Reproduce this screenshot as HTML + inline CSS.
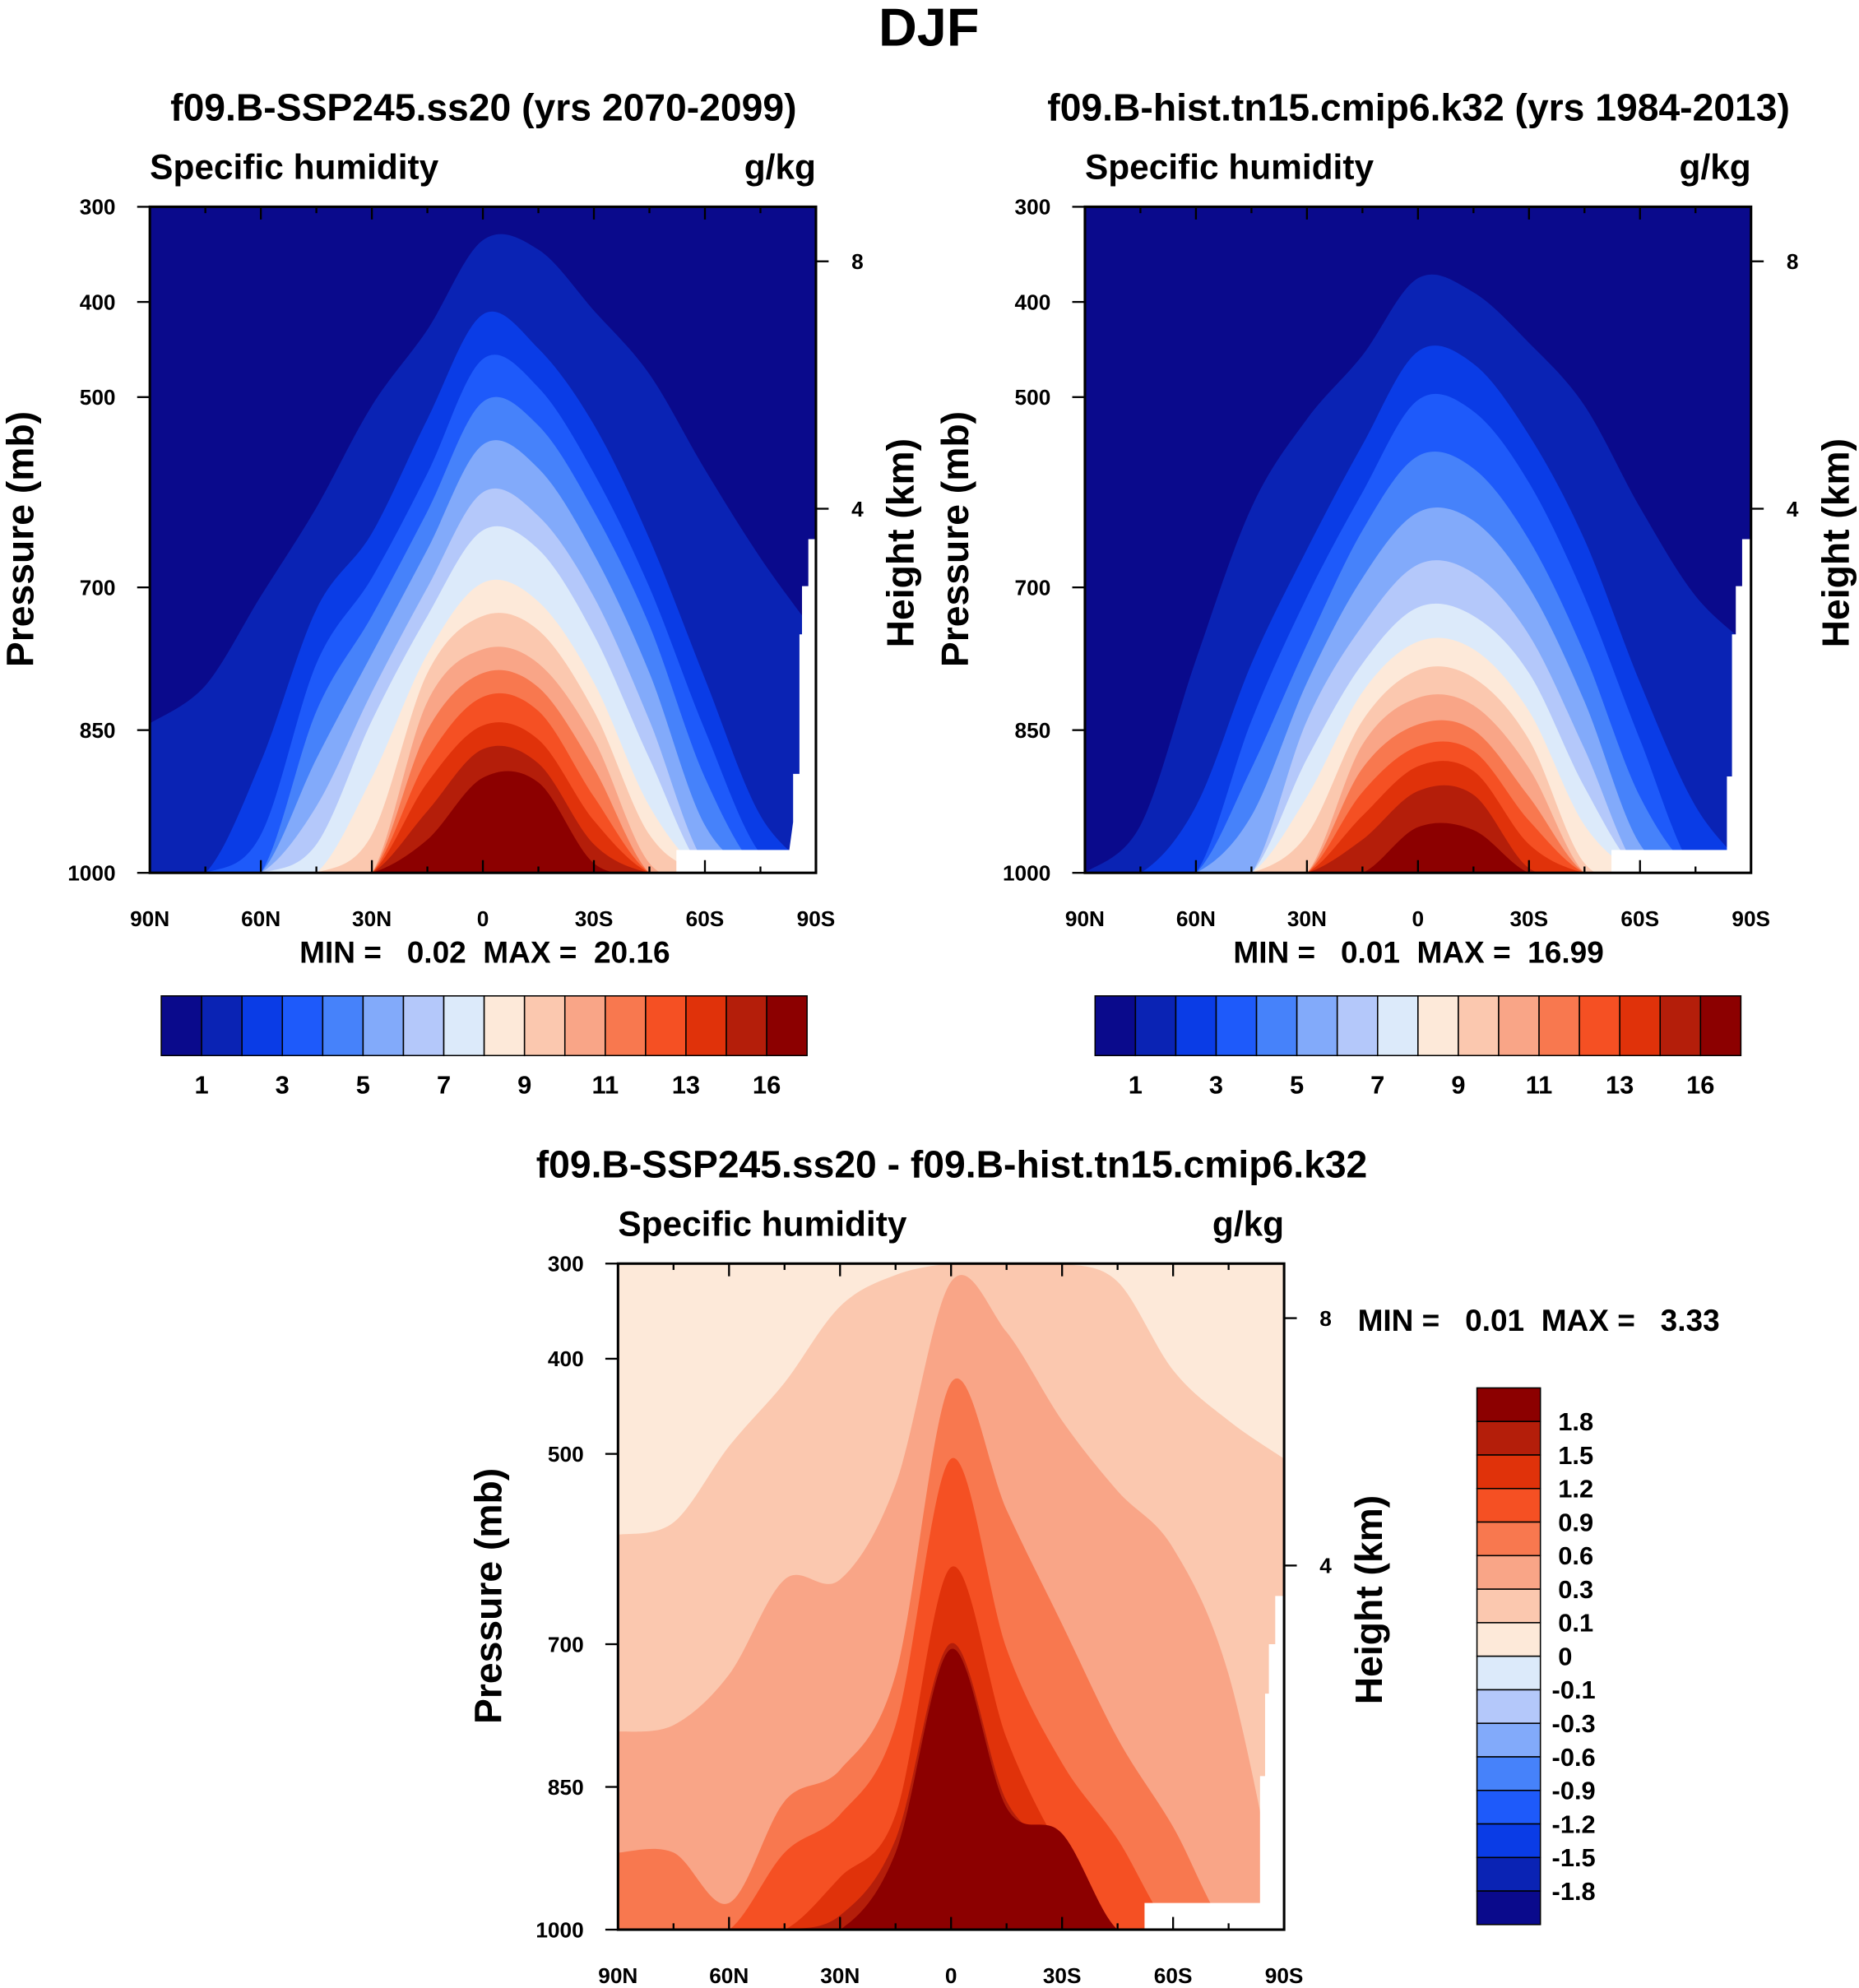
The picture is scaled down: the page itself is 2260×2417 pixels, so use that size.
<!DOCTYPE html>
<html><head><meta charset="utf-8">
<style>
html,body{margin:0;padding:0;background:#fff;}
svg{display:block;font-family:"Liberation Sans",Arial,sans-serif;font-weight:bold;}
</style></head>
<body>
<svg id="chart" width="2260" height="2417" viewBox="0 0 1465 1567" xmlns="http://www.w3.org/2000/svg">
<text x="732" y="36" font-size="42" text-anchor="middle">DJF</text>
</svg>
<script>
const NS="http://www.w3.org/2000/svg";
const svg=document.getElementById('chart');

// ---------- data ----------
const lats=[-90,-75,-60,-45,-30,-15,0,15,30,45,60,75,90];
const latTicks=[-90,-60,-30,0,30,60,90];
const latLabels=['90N','60N','30N','0','30S','60S','90S'];
const presTicks=[300,400,500,700,850,1000];
const heightTicks=[8,4];
const absColors=['#0a0a8c','#0a23b4','#0a3ce6','#1e5afa','#4682fa','#82aafa','#b4c8fa','#dceafa','#fde9d9','#fbc8af','#f9a587','#f8784f','#f55023','#e0320a','#b41e0a','#8c0000'];
const absCbLabels=['1','3','5','7','9','11','13','16'];
const diffColors=['#8c0000','#b41e0a','#e0320a','#f55023','#f8784f','#f9a587','#fbc8af','#fde9d9','#dceafa','#b4c8fa','#82aafa','#4682fa','#1e5afa','#0a3ce6','#0a23b4','#0a0a8c'];
const diffCbLabels=['1.8','1.5','1.2','0.9','0.6','0.3','0.1','0','-0.1','-0.3','-0.6','-0.9','-1.2','-1.5','-1.8'];
// contour top pressures (mb) per level along lats
const futLevels=[
[843,803,709,616,509,429,335,345,409,476,576,669,749],
[1000,1000,883,723,643,523,413,449,529,649,796,940,1000],
[1000,1000,960,780,690,580,460,490,580,700,850,980,1000],
[1000,1000,1000,830,730,620,505,530,620,740,900,1000,1000],
[1000,1000,1000,880,770,660,550,575,665,790,950,1000,1000],
[1000,1000,1000,930,810,700,600,625,710,840,990,1000,1000],
[1000,1000,1000,970,840,730,640,660,750,880,1000,1000,1000],
[1000,1000,1000,1000,900,770,695,715,800,930,1000,1000,1000],
[1000,1000,1000,1000,960,790,730,745,830,960,1000,1000,1000],
[1000,1000,1000,1000,1000,820,765,780,860,990,1000,1000,1000],
[1000,1000,1000,1000,1000,850,790,805,890,1000,1000,1000,1000],
[1000,1000,1000,1000,1000,880,815,830,920,1000,1000,1000,1000],
[1000,1000,1000,1000,1000,905,845,860,945,1000,1000,1000,1000],
[1000,1000,1000,1000,1000,935,870,885,970,1000,1000,1000,1000],
[1000,1000,1000,1000,1000,965,900,905,990,1000,1000,1000,1000]];
const histLevels=[
[1000,950,776,616,523,456,375,390,443,509,616,709,763],
[1000,1000,930,780,660,550,452,465,540,650,800,930,1000],
[1000,1000,1000,840,710,600,503,515,590,710,860,1000,1000],
[1000,1000,1000,890,760,640,562,575,650,770,920,1000,1000],
[1000,1000,1000,940,800,690,621,630,700,820,970,1000,1000],
[1000,1000,1000,1000,840,740,676,685,750,870,1000,1000,1000],
[1000,1000,1000,1000,880,780,721,730,790,910,1000,1000,1000],
[1000,1000,1000,1000,920,810,757,765,830,950,1000,1000,1000],
[1000,1000,1000,1000,960,840,787,795,860,990,1000,1000,1000],
[1000,1000,1000,1000,1000,865,816,824,890,1000,1000,1000,1000],
[1000,1000,1000,1000,1000,890,844,850,920,1000,1000,1000,1000],
[1000,1000,1000,1000,1000,915,867,872,945,1000,1000,1000,1000],
[1000,1000,1000,1000,1000,940,888,893,970,1000,1000,1000,1000],
[1000,1000,1000,1000,1000,965,914,918,995,1000,1000,1000,1000],
[1000,1000,1000,1000,1000,1000,952,955,1000,1000,1000,1000,1000]];
const diffLevels=[
[585,572,492,425,345,312,300,300,300,319,412,465,505],
[792,785,732,632,632,532,319,372,465,539,599,732,1000],
[919,919,972,865,832,732,425,559,679,799,892,1000,1000],
[1000,1000,1000,919,879,785,505,705,825,905,1000,1000,1000],
[1000,1000,1000,1000,945,879,619,799,919,1000,1000,1000,1000],
[1000,1000,1000,1000,985,905,699,865,919,1000,1000,1000,1000],
[1000,1000,1000,1000,1000,919,705,872,899,1000,1000,1000,1000]];
const diffLevelColors=['#fbc8af','#f9a587','#f8784f','#f55023','#e0320a','#b41e0a','#8c0000'];

function el(tag,attrs,parent){const e=document.createElementNS(NS,tag);for(const k in attrs)e.setAttribute(k,attrs[k]);(parent||svg).appendChild(e);return e;}
function txt(x,y,s,size,anchor,parent,rot){const t=el('text',{x:x,y:y,'font-size':size,'text-anchor':anchor||'start'},parent);if(rot)t.setAttribute('transform','rotate(-90 '+x+' '+y+')');t.textContent=s;return t;}

function smoothPath(pts,B,L,R){
  let d='M'+L+','+(B+5)+' L'+pts[0][0]+','+pts[0][1];
  for(let i=0;i<pts.length-1;i++){
    const p0=pts[Math.max(0,i-1)],p1=pts[i],p2=pts[i+1],p3=pts[Math.min(pts.length-1,i+2)];
    const c1=[p1[0]+(p2[0]-p0[0])/6,p1[1]+(p2[1]-p0[1])/6];
    const c2=[p2[0]-(p3[0]-p1[0])/6,p2[1]-(p3[1]-p1[1])/6];
    d+=' C'+c1[0].toFixed(1)+','+c1[1].toFixed(1)+' '+c2[0].toFixed(1)+','+c2[1].toFixed(1)+' '+p2[0].toFixed(1)+','+p2[1].toFixed(1);
  }
  d+=' L'+R+','+(B+5)+' Z';
  return d;
}

function panel(c){
  const g=el('g',{});
  
  
  const L=c.x0,R=c.x0+525,T=c.y0,B=c.y0+525;
  const xs=lat=>L+(lat+90)*525/180;
  const ys=p=>T+(p-300)*0.75;
  const clipId='clip-'+c.name;
  const cp=el('clipPath',{id:clipId},g);el('rect',{x:L,y:T,width:525,height:525},cp);
  const cg=el('g',{'clip-path':'url(#'+clipId+')'},g);
  const bg=el('rect',{x:L,y:T,width:525,height:525,fill:c.bg},cg);
  
  
  c.levels.forEach((arr,i)=>{
    const pts=arr.map((p,j)=>[xs(lats[j]),ys(p)]);
    const path=el('path',{d:smoothPath(pts,B,L,R),fill:c.colors[i]},cg);
    
    
  });
  const m=el('polygon',{points:c.mask.map(q=>(L+q[0])+','+(T+q[1])).join(' '),fill:'#fff'},cg);
  
  
  el('rect',{x:L,y:T,width:525,height:525,fill:'none',stroke:'#000','stroke-width':2},g);
  for(let lat=-90;lat<=90;lat+=15){
    const x=xs(lat),maj=lat%30===0;const len=maj?10:5;
    el('line',{x1:x,y1:B,x2:x,y2:B-len,stroke:'#000','stroke-width':1.5},g);
    el('line',{x1:x,y1:T,x2:x,y2:T+len,stroke:'#000','stroke-width':1.5},g);
  }
  latTicks.forEach((lat,i)=>{const t=txt(xs(lat),B+42,latLabels[i],17,'middle',g);});
  presTicks.forEach(p=>{const y=ys(p);el('line',{x1:L-10,y1:y,x2:L,y2:y,stroke:'#000','stroke-width':1.5},g);
    const t=txt(L-27,y+6,String(p),17,'end',g);});
  heightTicks.forEach(h=>{const y=h===8?T+43:T+238;el('line',{x1:R,y1:y,x2:R+10,y2:y,stroke:'#000','stroke-width':1.5},g);
    const t=txt(R+28,y+6,String(h),17,'start',g);});
  let t=txt(L,T-22,'Specific humidity',27.5,'start',g);
  t=txt(R,T-22,'g/kg',27.5,'end',g);
  t=txt(c.titleX,T-68,c.title,30,'middle',g);
  t=txt(L-92,T+262,'Pressure (mb)',30,'middle',g,true);
  t=txt(R+77,T+265,'Height (km)',30,'middle',g,true);
  t=txt(c.mmX,c.mmY,c.minmax,24,'start',g);
  t.setAttribute('xml:space','preserve');t.style.whiteSpace='pre';
}

const maskA=[[525,262],[519,262],[519,299],[514,299],[514,337],[512,337],[512,447],[507,447],[507,485],[504,507],[415,507],[415,525],[525,525]];
const maskB=[[525,262],[518,262],[518,299],[513,299],[513,337],[510,337],[510,449],[506,449],[506,507],[415,507],[415,525],[525,525]];
const maskC=[[525,262],[518,262],[518,300],[513,300],[513,339],[510,339],[510,404],[506,404],[506,504],[415,504],[415,525],[525,525]];

panel({name:'future-panel',x0:118,y0:163,levels:futLevels,colors:absColors.slice(1),bg:absColors[0],mask:maskA,
  title:'f09.B-SSP245.ss20 (yrs 2070-2099)',titleX:381,minmax:'MIN =   0.02  MAX =  20.16',mmX:236,mmY:759});
panel({name:'historical-panel',x0:855,y0:163,levels:histLevels,colors:absColors.slice(1),bg:absColors[0],mask:maskB,
  title:'f09.B-hist.tn15.cmip6.k32 (yrs 1984-2013)',titleX:1118,minmax:'MIN =   0.01  MAX =  16.99',mmX:972,mmY:759});
panel({name:'difference-panel',x0:487,y0:996,levels:diffLevels,colors:diffLevelColors,bg:'#fde9d9',mask:maskC,
  title:'f09.B-SSP245.ss20 - f09.B-hist.tn15.cmip6.k32',titleX:750,minmax:'MIN =   0.01  MAX =   3.33',mmX:1070,mmY:1049});

function hbar(name,x0,y0){
  const g=el('g',{});
  
  
  const w=(636-127)/16;
  absColors.forEach((c,i)=>{const r=el('rect',{x:x0+i*w,y:y0,width:w,height:47,fill:c,stroke:'#000','stroke-width':1},g);
    });
  absCbLabels.forEach((s,i)=>{const t=txt(x0+(2*i+1)*w,y0+77,s,20,'middle',g);});
}
hbar('future-colorbar',127,785);
hbar('historical-colorbar',863,785);

(function(){
  const g=el('g',{});
  
  
  const h=(1517-1094)/16;
  diffColors.forEach((c,i)=>{const r=el('rect',{x:1164,y:1094+i*h,width:50,height:h,fill:c,stroke:'#000','stroke-width':1},g);
    });
  diffCbLabels.forEach((s,i)=>{const t=txt(s.startsWith('-')?1223:1228,1094+(i+1)*h+7,s,20,'start',g);});
})();
</script>
</body></html>
